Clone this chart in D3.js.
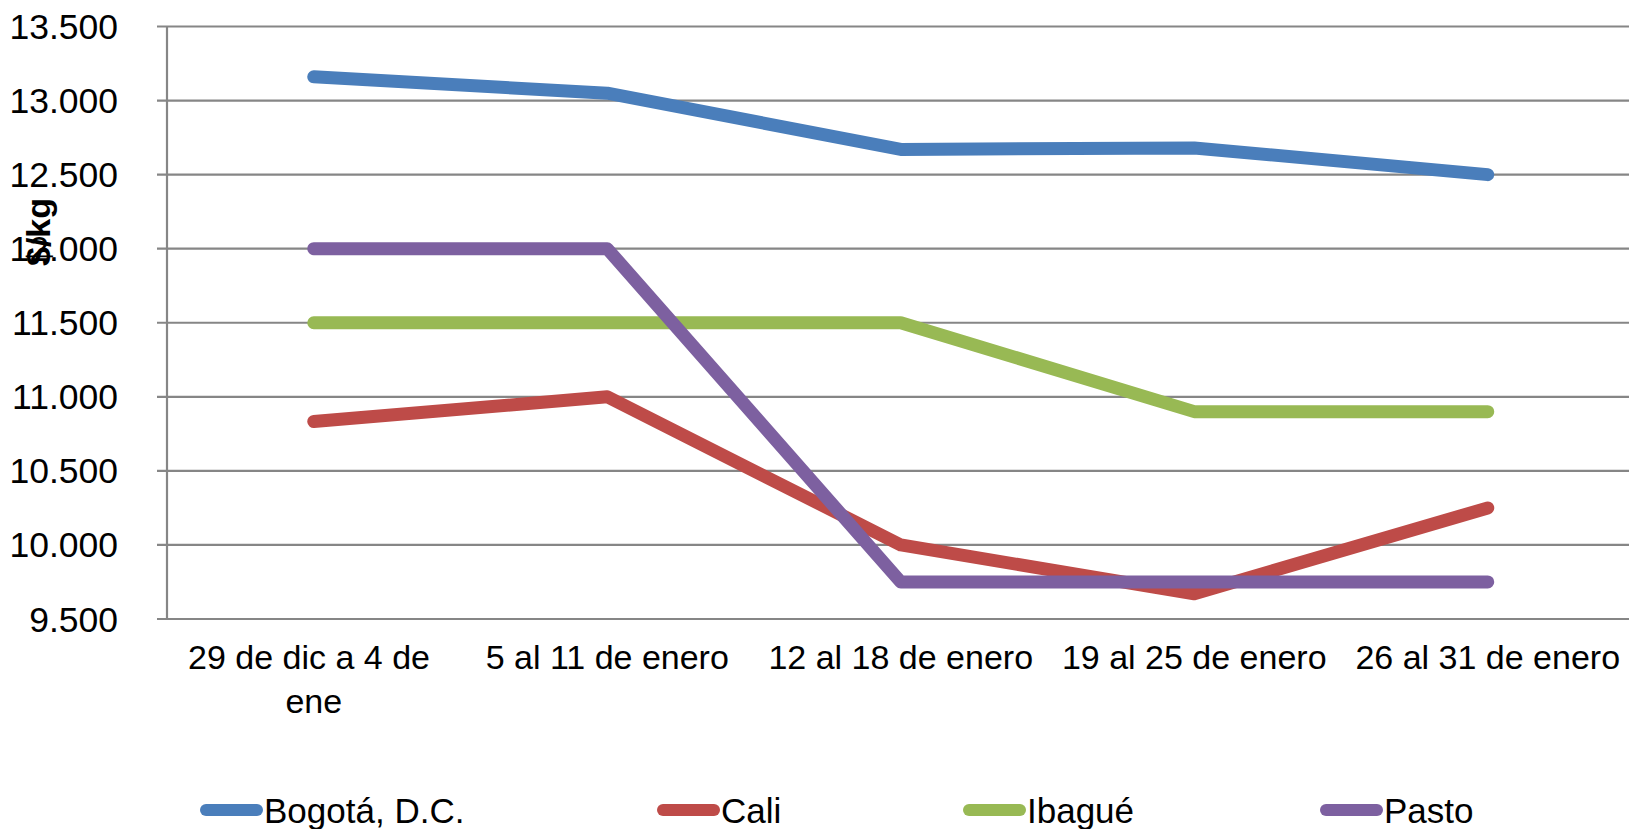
<!DOCTYPE html>
<html>
<head>
<meta charset="utf-8">
<script src="https://cdn.jsdelivr.net/npm/d3@7"></script>
<style>
  body { margin: 0; background: #fff; overflow: hidden; }
  text { font-family: "Liberation Sans", Arial, sans-serif; fill: #000; }
</style>
</head>
<body>
<svg id="chart" width="1629" height="829"></svg>
<script>
// Week labels on the x axis
var weeks = ["29 de dic a 4 de ene", "5 al 11 de enero", "12 al 18 de enero",
             "19 al 25 de enero", "26 al 31 de enero"];

// Price per kg, one array per city
var bogota = [13160, 13050, 12670, 12680, 12500];
var cali   = [10833, 11000, 10000, 9670, 10250];
var ibague = [11500, 11500, 11500, 10900, 10900];
var pasto  = [12000, 12000, 9750, 9750, 9750];

var cities = ["Bogotá, D.C.", "Cali", "Ibagué", "Pasto"];
var yTicks = [9500, 10000, 10500, 11000, 11500, 12000, 12500, 13000, 13500];

var series = [
  {name: cities[0], values: bogota, color: "#4A7EBB"},
  {name: cities[1], values: cali,   color: "#BE4B48"},
  {name: cities[2], values: ibague, color: "#98B954"},
  {name: cities[3], values: pasto,  color: "#7D60A0"}
];

// Plot area
var plotLeft = 167, plotRight = 1634.5, plotTop = 26.5, plotBottom = 619;
var svg = d3.select("#chart");

var x = d3.scalePoint().domain(weeks).range([plotLeft, plotRight]).padding(0.5);
var y = d3.scaleLinear().domain([9500, 13500]).range([plotBottom, plotTop]);

// Spanish number format: 13.500
var fmt = d3.formatLocale({decimal: ",", thousands: ".", grouping: [3], currency: ["$", ""]}).format(",d");

// Gridlines
svg.append("g")
  .selectAll("line")
  .data(yTicks)
  .enter().append("line")
  .attr("x1", plotLeft - 10)
  .attr("x2", 1629)
  .attr("y1", (d) => y(d))
  .attr("y2", (d) => y(d))
  .style("stroke", "#868686")
  .style("stroke-width", 2.2);

// Vertical axis line
svg.append("line")
  .attr("x1", plotLeft).attr("x2", plotLeft)
  .attr("y1", plotTop).attr("y2", plotBottom)
  .style("stroke", "#868686")
  .style("stroke-width", 2.2);

// Y tick labels
svg.append("g")
  .selectAll("text")
  .data(yTicks)
  .enter().append("text")
  .attr("x", 118)
  .attr("y", (d) => y(d) + 12.5)
  .attr("text-anchor", "end")
  .style("font-size", "35.5px")
  .text((d) => fmt(d));

// Y axis title
svg.append("text")
  .attr("transform", "translate(50,232) rotate(-90)")
  .attr("text-anchor", "middle")
  .style("font-size", "34px")
  .style("font-weight", "bold")
  .text("$/kg");

// X tick labels, wrapped to the band width
var xLabels = svg.append("g")
  .selectAll("text")
  .data(weeks)
  .enter().append("text")
  .attr("x", (d) => x(d))
  .attr("y", 669)
  .attr("text-anchor", "middle")
  .style("font-size", "34px")
  .text((d) => d);

xLabels.each(function(d) {
  var t = d3.select(this);
  var words = d.split(" ");
  var maxW = x.step() - 4;
  t.text(null);
  var current = [];
  var tspan = t.append("tspan").attr("x", x(d)).attr("dy", 0);
  words.forEach(function(w) {
    current.push(w);
    tspan.text(current.join(" "));
    if (tspan.node().getComputedTextLength() > maxW && current.length > 1) {
      current.pop();
      tspan.text(current.join(" ") + " ");
      current = [w];
      tspan = t.append("tspan").attr("x", x(d)).attr("dy", 44).text(w);
    }
  });
});

// Series lines
var lineGen = d3.line()
  .x((d, i) => x(weeks[i]))
  .y((d) => y(d));

svg.append("g")
  .selectAll("path")
  .data(series)
  .enter().append("path")
  .attr("d", (d) => lineGen(d.values))
  .style("fill", "none")
  .style("stroke", (d) => d.color)
  .style("stroke-width", 13)
  .style("stroke-linecap", "round")
  .style("stroke-linejoin", "round");

// Legend
var legendX = [200, 657, 963, 1320];
var legend = svg.append("g")
  .selectAll("g")
  .data(series)
  .enter().append("g")
  .attr("transform", (d, i) => `translate(${legendX[i]}, 810)`);

legend.append("line")
  .attr("x1", 6).attr("x2", 57)
  .attr("y1", 0).attr("y2", 0)
  .style("stroke", (d) => d.color)
  .style("stroke-width", 12)
  .style("stroke-linecap", "round");

legend.append("text")
  .attr("x", 64)
  .attr("y", 12.5)
  .style("font-size", "35px")
  .text((d) => d.name);
</script>
</body>
</html>
